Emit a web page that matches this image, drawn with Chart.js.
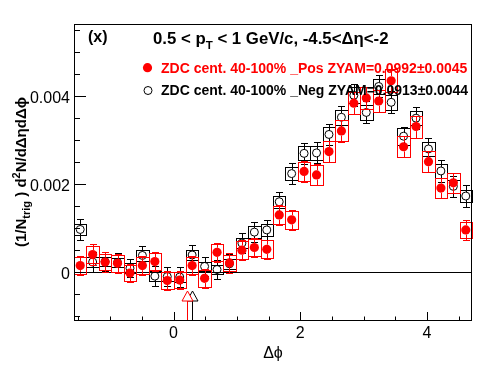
<!DOCTYPE html>
<html>
<head>
<meta charset="utf-8">
<script src="https://cdn.jsdelivr.net/npm/chart.js@4"></script>
<style>
  html, body { margin: 0; padding: 0; background: #fff; }
  #wrap { width: 496px; height: 374px; }
</style>
</head>
<body>
<div id="wrap"><canvas id="c" width="496" height="374"></canvas></div>
<script>
// bin centres in delta-phi (32 bins over -pi/2 .. 3pi/2)
const dphi = [-1.4726, -1.2763, -1.0799, -0.8836, -0.6872, -0.4909, -0.2945, -0.0982,
               0.0982,  0.2945,  0.4909,  0.6872,  0.8836,  1.0799,  1.2763,  1.4726,
               1.6690,  1.8653,  2.0617,  2.2580,  2.4544,  2.6507,  2.8471,  3.0434,
               3.2398,  3.4361,  3.6325,  3.8288,  4.0252,  4.2215,  4.4179,  4.6142];

// _Pos (red, filled)
const posVals = [0.00015, 0.00040, 0.00023, 0.00020, -0.00002, 0.00015, 0.00024, -0.00019,
                 -0.00018, 0.00015, -0.00014, 0.00045, 0.00021, 0.00050, 0.00056, 0.00052,
                 0.00130, 0.00119, 0.00229, 0.00221, 0.00274, 0.00321, 0.00384, 0.00396,
                 0.00389, 0.00435, 0.00285, 0.00331, 0.00251, 0.00191, 0.00203, 0.00096];
const posStat = [0.00022, 0.00023, 0.00022, 0.00022, 0.00021, 0.00022, 0.00022, 0.00021,
                 0.00021, 0.00022, 0.00021, 0.00022, 0.00022, 0.00022, 0.00022, 0.00022,
                 0.00023, 0.00023, 0.00024, 0.00024, 0.00024, 0.00025, 0.00025, 0.00025,
                 0.00025, 0.00025, 0.00024, 0.00025, 0.00024, 0.00023, 0.00023, 0.00023];
const posSys  = [0.00019, 0.00020, 0.00019, 0.00019, 0.00019, 0.00019, 0.00019, 0.00019,
                 0.00019, 0.00019, 0.00019, 0.00020, 0.00019, 0.00020, 0.00020, 0.00020,
                 0.00021, 0.00021, 0.00022, 0.00022, 0.00023, 0.00024, 0.00025, 0.00025,
                 0.00025, 0.00026, 0.00024, 0.00025, 0.00024, 0.00023, 0.00023, 0.00019];

// _Neg (black, open)
const negVals = [0.00097, 0.00023, 0.00024, 0.00022, 0.00009, 0.00038, -0.00009, -0.00010,
                 -0.00011, 0.00039, 0.00013, 0.00006, 0.00019, 0.00066, 0.00091, 0.00096,
                 0.00160, 0.00224, 0.00270, 0.00271, 0.00313, 0.00352, 0.00402, 0.00363,
                 0.00422, 0.00386, 0.00309, 0.00350, 0.00280, 0.00230, 0.00195, 0.00173];
const negStat = [0.00024, 0.00023, 0.00022, 0.00022, 0.00021, 0.00022, 0.00022, 0.00022,
                 0.00022, 0.00022, 0.00021, 0.00021, 0.00022, 0.00022, 0.00023, 0.00023,
                 0.00023, 0.00024, 0.00024, 0.00024, 0.00024, 0.00025, 0.00025, 0.00025,
                 0.00025, 0.00025, 0.00022, 0.00025, 0.00024, 0.00024, 0.00024, 0.00024];
const negSys  = [0.00012, 0.00011, 0.00011, 0.00011, 0.00011, 0.00012, 0.00011, 0.00011,
                 0.00011, 0.00012, 0.00011, 0.00011, 0.00011, 0.00012, 0.00013, 0.00013,
                 0.00014, 0.00015, 0.00016, 0.00016, 0.00016, 0.00017, 0.00018, 0.00017,
                 0.00018, 0.00017, 0.00019, 0.00016, 0.00016, 0.00015, 0.00014, 0.00013];

const zyamArrowX = [0.21, 0.29]; // Pos, Neg
const xTickVals = [0, 2, 4];
const xTickLabels = ['0', '2', '4'];
const yTickVals = [0, 0.002, 0.004];
const yTickLabels = ['0', '0.002', '0.004'];
const legendLabels = ['ZDC cent. 40-100% _Pos ZYAM=0.0992\u00b10.0045',
                      'ZDC cent. 40-100% _Neg ZYAM=0.0913\u00b10.0044'];

const X_MIN = -Math.PI / 2, X_MAX = 3 * Math.PI / 2;
const Y_MIN = -0.00111, Y_MAX = 0.00564;
const BIN_HALF = 0.0982;
const FONT = '"Liberation Sans", Arial, Helvetica, sans-serif';

const series = [
    { vals: posVals, stat: posStat, sys: posSys, color: '#ff0000', radius: 4.6 },
    { vals: negVals, stat: negStat, sys: negSys, color: '#000000', radius: 4 }
];

function drawBoxes(chart, s) {
    const { ctx, scales: { x, y } } = chart;
    ctx.save();
    ctx.strokeStyle = s.color;
    ctx.lineWidth = 1;
    dphi.forEach((d, i) => {
        const x0 = Math.round(x.getPixelForValue(d - BIN_HALF)) + 0.5;
        const x1 = Math.round(x.getPixelForValue(d + BIN_HALF)) + 0.5;
        const y0 = Math.round(y.getPixelForValue(s.vals[i] + s.sys[i])) + 0.5;
        const y1 = Math.round(y.getPixelForValue(s.vals[i] - s.sys[i])) + 0.5;
        ctx.strokeRect(x0, y0, x1 - x0, y1 - y0);
    });
    ctx.restore();
}

function drawErrors(chart, s) {
    const { ctx, scales: { x, y } } = chart;
    ctx.save();
    ctx.strokeStyle = s.color;
    ctx.lineWidth = 1;
    dphi.forEach((d, i) => {
        const px = Math.round(x.getPixelForValue(d)) + 0.5;
        const pc = y.getPixelForValue(s.vals[i]);
        const pt = Math.round(y.getPixelForValue(s.vals[i] + s.stat[i])) + 0.5;
        const pb = Math.round(y.getPixelForValue(s.vals[i] - s.stat[i])) + 0.5;
        ctx.beginPath();
        ctx.moveTo(px, pt); ctx.lineTo(px, pc - s.radius);
        ctx.moveTo(px, pc + s.radius); ctx.lineTo(px, pb);
        ctx.moveTo(px - 3.5, pt); ctx.lineTo(px + 3.5, pt);
        ctx.moveTo(px - 3.5, pb); ctx.lineTo(px + 3.5, pb);
        ctx.stroke();
    });
    ctx.restore();
}

function drawArrows(chart) {
    const { ctx, chartArea: a, scales: { x } } = chart;
    ctx.save();
    ctx.lineWidth = 1;
    [1, 0].forEach(k => {
        const px = Math.round(x.getPixelForValue(zyamArrowX[k])) + 0.5;
        const base = a.bottom - 20, tip = a.bottom - 30;
        ctx.strokeStyle = series[k].color;
        ctx.beginPath();
        ctx.moveTo(px, a.bottom); ctx.lineTo(px, base);
        ctx.stroke();
        ctx.beginPath();
        ctx.moveTo(px - 5.5, base); ctx.lineTo(px, tip); ctx.lineTo(px + 5.5, base);
        ctx.closePath();
        ctx.fillStyle = '#fff';
        ctx.fill();
        ctx.stroke();
    });
    ctx.restore();
}

function drawFrame(chart) {
    const { ctx, chartArea: a, scales: { x, y } } = chart;
    ctx.save();
    ctx.strokeStyle = '#000';
    ctx.lineWidth = 1;
    ctx.strokeRect(a.left + 0.5, a.top + 0.5, a.right - a.left - 1, a.bottom - a.top - 1);
    ctx.beginPath();
    // x ticks every 0.5, inside the frame
    for (let k = -3; k <= 9; k++) {
        const v = k * 0.5;
        if (v < X_MIN || v > X_MAX) continue;
        const px = Math.round(x.getPixelForValue(v)) + 0.5;
        const len = xTickVals.includes(v) ? 9 : 4.5;
        ctx.moveTo(px, a.bottom); ctx.lineTo(px, a.bottom - len);
    }
    // y ticks every 0.0005
    for (let k = -2; k <= 11; k++) {
        const v = k * 0.0005;
        if (v < Y_MIN || v > Y_MAX) continue;
        const py = Math.round(y.getPixelForValue(v)) + 0.5;
        const len = k % 4 === 0 ? 12 : 6;
        ctx.moveTo(a.left, py); ctx.lineTo(a.left + len, py);
    }
    ctx.stroke();
    ctx.restore();
}

// draws a run of bold text pieces with sub/superscripts
function drawRich(ctx, x0, y0, parts) {
    let x = x0;
    parts.forEach(p => {
        ctx.font = 'bold ' + p.size + 'px ' + FONT;
        ctx.fillText(p.t, x, y0 + (p.dy || 0));
        x += ctx.measureText(p.t).width;
    });
}

function drawTexts(chart) {
    const ctx = chart.ctx;
    ctx.save();
    ctx.textBaseline = 'alphabetic';
    ctx.textAlign = 'left';
    ctx.fillStyle = '#000';
    ctx.font = 'bold 16px ' + FONT;
    ctx.fillText('(x)', 88, 42);
    drawRich(ctx, 153, 43.5, [
        { t: '0.5 < p', size: 16.8 },
        { t: 'T', size: 11.5, dy: 5 },
        { t: ' < 1 GeV/c, -4.5<\u0394\u03b7<-2', size: 16.8 }
    ]);

    // legend
    ctx.fillStyle = '#ff0000';
    ctx.beginPath(); ctx.arc(147.5, 67.7, 4.6, 0, Math.PI * 2); ctx.fill();
    ctx.font = 'bold 14px ' + FONT;
    ctx.fillText(legendLabels[0], 161, 72.7);
    ctx.strokeStyle = '#000'; ctx.lineWidth = 1;
    ctx.beginPath(); ctx.arc(148, 90.5, 4, 0, Math.PI * 2); ctx.stroke();
    ctx.fillStyle = '#000';
    ctx.fillText(legendLabels[1], 161, 95.2);

    // y-axis title, rotated
    ctx.translate(25.5, 247);
    ctx.rotate(-Math.PI / 2);
    drawRich(ctx, 0, 0, [
        { t: '(1/N', size: 15 },
        { t: 'trig', size: 11, dy: 4 },
        { t: ' ) d', size: 15 },
        { t: '2', size: 11, dy: -6 },
        { t: 'N/d\u0394\u03b7d\u0394\u03d5', size: 15 }
    ]);
    ctx.restore();
}

const rootPlugin = {
    id: 'rootPlugin',
    beforeDatasetsDraw(chart) {
        const { ctx, chartArea: a, scales: { y } } = chart;
        const py = Math.round(y.getPixelForValue(0)) + 0.5;
        ctx.save();
        ctx.strokeStyle = '#000';
        ctx.lineWidth = 1;
        ctx.beginPath(); ctx.moveTo(a.left, py); ctx.lineTo(a.right, py); ctx.stroke();
        ctx.restore();
    },
    beforeDatasetDraw(chart, args) {
        const s = series[args.index];
        drawBoxes(chart, s);
        drawErrors(chart, s);
    },
    afterDatasetsDraw(chart) {
        drawArrows(chart);
        drawFrame(chart);
        drawTexts(chart);
    }
};

Chart.defaults.font.family = FONT;
Chart.defaults.color = '#000';

new Chart(document.getElementById('c'), {
    type: 'scatter',
    data: {
        datasets: [
            {
                label: legendLabels[0],
                data: dphi.map((d, i) => ({ x: d, y: posVals[i] })),
                pointStyle: 'circle',
                pointRadius: 4.6,
                pointBorderWidth: 0,
                pointBackgroundColor: '#ff0000',
                pointBorderColor: '#ff0000'
            },
            {
                label: legendLabels[1],
                data: dphi.map((d, i) => ({ x: d, y: negVals[i] })),
                pointStyle: 'circle',
                pointRadius: 4,
                pointBorderWidth: 1,
                pointBackgroundColor: 'rgba(0,0,0,0)',
                pointBorderColor: '#000000'
            }
        ]
    },
    options: {
        responsive: false,
        animation: false,
        devicePixelRatio: 1,
        layout: { padding: { top: 24, right: 24, left: 0, bottom: 0 } },
        plugins: { legend: { display: false }, tooltip: { enabled: false } },
        scales: {
            x: {
                type: 'linear',
                min: X_MIN,
                max: X_MAX,
                grid: { display: false, drawTicks: false },
                border: { display: false },
                afterBuildTicks: s => { s.ticks = xTickVals.map(v => ({ value: v })); },
                afterFit: s => { s.height = 53; },
                ticks: {
                    autoSkip: false,
                    maxRotation: 0,
                    padding: 3,
                    font: { size: 16 },
                    callback: v => xTickLabels[xTickVals.indexOf(v)]
                },
                title: {
                    display: true,
                    text: '\u0394\u03d5',
                    font: { size: 16 },
                    padding: { top: 0, bottom: 11 }
                }
            },
            y: {
                type: 'linear',
                min: Y_MIN,
                max: Y_MAX,
                grid: { display: false, drawTicks: false },
                border: { display: false },
                afterBuildTicks: s => { s.ticks = yTickVals.map(v => ({ value: v })); },
                afterFit: s => { s.width = 74; },
                ticks: {
                    autoSkip: false,
                    padding: 4,
                    labelOffset: 2,
                    font: { size: 16 },
                    callback: v => yTickLabels[yTickVals.indexOf(v)]
                }
            }
        }
    },
    plugins: [rootPlugin]
});
</script>
</body>
</html>
